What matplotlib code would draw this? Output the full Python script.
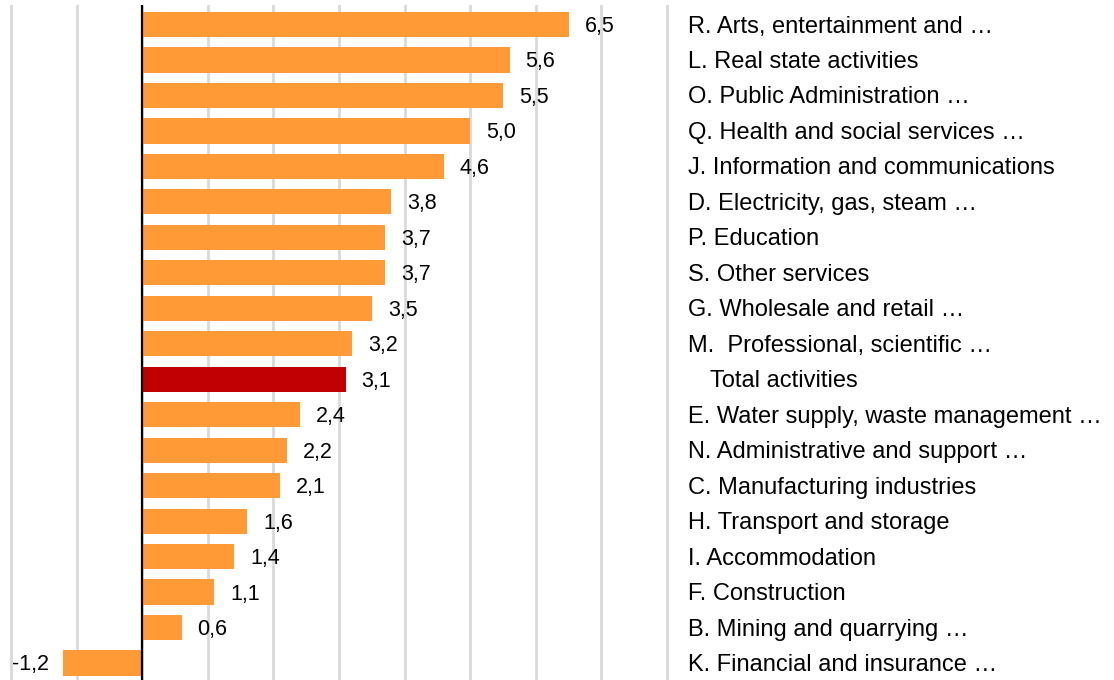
import matplotlib
matplotlib.use("Agg")
import matplotlib.pyplot as plt
from matplotlib.transforms import blended_transform_factory

categories = [
    "R. Arts, entertainment and …",
    "L. Real state activities",
    "O. Public Administration …",
    "Q. Health and social services …",
    "J. Information and communications",
    "D. Electricity, gas, steam …",
    "P. Education",
    "S. Other services",
    "G. Wholesale and retail …",
    "M.  Professional, scientific …",
    "Total activities",
    "E. Water supply, waste management …",
    "N. Administrative and support …",
    "C. Manufacturing industries",
    "H. Transport and storage",
    "I. Accommodation",
    "F. Construction",
    "B. Mining and quarrying …",
    "K. Financial and insurance …",
]
values = [6.5, 5.6, 5.5, 5.0, 4.6, 3.8, 3.7, 3.7, 3.5, 3.2, 3.1,
          2.4, 2.2, 2.1, 1.6, 1.4, 1.1, 0.6, -1.2]
highlight = "Total activities"

ORANGE = "#FF9A36"
RED = "#C00000"

plt.rcParams["font.family"] = ["Liberation Sans", "DejaVu Sans"]

W, H = 1114, 680
fig = plt.figure(figsize=(W / 100, H / 100), dpi=100)

xmin, xmax = -2.05, 8.05
ppu = 65.6
left_px = 11 - 0.05 * ppu
right_px = 667 + 0.05 * ppu
top_px = 5
ax = fig.add_axes([left_px / W, 0, (right_px - left_px) / W, (H - top_px) / H])

ypos = list(range(len(categories)))
colors = [RED if c == highlight else ORANGE for c in categories]
ax.barh(ypos, values, height=0.71, color=colors, zorder=3)

ax.set_xlim(xmin, xmax)
ax.set_ylim(18.48, -0.55)
ax.set_xticks(range(-2, 9))
ax.grid(axis="x", color="#D9D9D9", linewidth=2, zorder=0)
ax.set_yticks([])
ax.tick_params(axis="x", length=0, labelbottom=False)
for s in ax.spines.values():
    s.set_visible(False)
ax.axvline(0, color="black", linewidth=1.6, zorder=4)

for y, v in zip(ypos, values):
    lbl = f"{v:.1f}".replace(".", ",")
    if v >= 0:
        ax.annotate(lbl, (v, y), xytext=(16, -2), textcoords="offset pixels",
                    ha="left", va="center", fontsize=15.5, zorder=5)
    else:
        ax.annotate(lbl, (v, y), xytext=(-14, -2), textcoords="offset pixels",
                    ha="right", va="center", fontsize=15.5, zorder=5)

trans = blended_transform_factory(fig.transFigure, ax.transData)
for y, c in zip(ypos, categories):
    xpx = 710 if c == highlight else 688
    ax.annotate(c, (xpx / W, y), xycoords=trans, xytext=(0, -2),
                textcoords="offset pixels", ha="left", va="center",
                fontsize=17, annotation_clip=False)

fig.savefig("out.png", dpi=100)
